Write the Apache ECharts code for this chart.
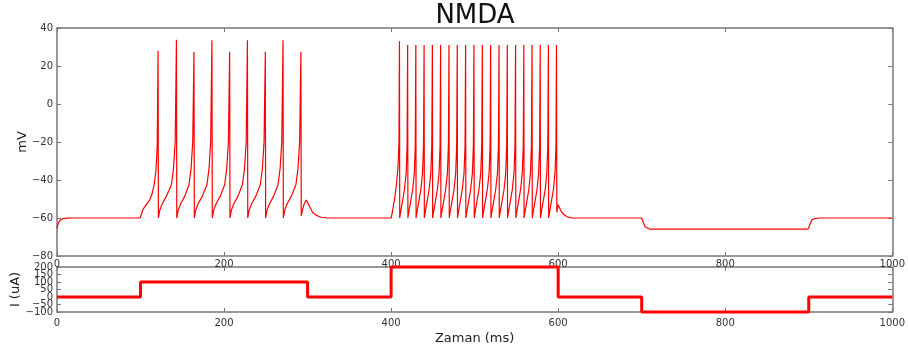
<!DOCTYPE html>
<html>
<head>
<meta charset="utf-8">
<script src="https://cdn.jsdelivr.net/npm/echarts@6/dist/echarts.min.js"></script>
<style>
  html, body { margin: 0; padding: 0; background: #fff; }
  #chart { width: 908px; height: 354px; }
</style>
</head>
<body>
<div id="chart"></div>
<script>
// membrane potential trace (ms, mV)
const voltage = [
  [0, -65.5], [1, -63.5], [3, -61.6], [6, -60.5], [12, -60.1], [20, -60], [99.5, -60],
  [101, -58], [103, -55.5], [107, -52.8], [111, -50.5], [114, -47], [116.5, -42], [118.5, -35], [120, -22], [121, 28],
  [121.4, -60], [123, -56], [126, -52.5], [131, -48.5], [137, -42.5], [139.5, -34], [141.5, -20], [143, 33.8],
  [143.4, -60], [145, -56], [148, -52.5], [153, -48.5], [158, -42.5], [160.5, -34], [162.5, -20], [164, 27.5],
  [164.4, -60], [166, -56], [169, -52.5], [174, -48.5], [179.5, -42.5], [182, -34], [184, -20], [185.5, 33.5],
  [185.9, -60], [187.5, -56], [190.5, -52.5], [195.5, -48.5], [200.7, -42.5], [203.2, -34], [205.2, -20], [206.7, 27.5],
  [207.1, -60], [208.7, -56], [211.7, -52.5], [216.7, -48.5], [222, -42.5], [224.5, -34], [226.5, -20], [228, 33.5],
  [228.4, -60], [230, -56], [233, -52.5], [238, -48.5], [243.4, -42.5], [245.9, -34], [247.9, -20], [249.4, 27.5],
  [249.8, -60], [251.4, -56], [254.4, -52.5], [259.4, -48.5], [264.6, -42.5], [267.1, -34], [269.1, -20], [270.6, 33.5],
  [271, -60], [272.6, -56], [275.6, -52.5], [280.6, -48.5], [286, -42.5], [288.5, -34], [290.5, -20], [292, 27.5],
  [292.4, -59], [294, -55.5], [296, -52.5], [298.5, -50.5], [300.5, -51.5], [303, -54.5], [306, -57], [310, -58.5],
  [316, -59.6], [324, -60], [400, -60],
  [401.5, -57], [403, -53], [404.5, -49], [406.5, -42], [408.3, -33], [409.4, -20], [410, 33],
  [410.3, -60], [411.5, -56.5], [413.5, -51.5], [416, -45], [418, -36.5], [419.1, -22], [419.8, 31],
  [420.1, -60], [421.3, -56.5], [423.3, -51.5], [425.8, -45], [427.8, -36.5], [428.9, -22], [429.6, 31],
  [429.9, -60], [431.1, -56.5], [433.1, -51.5], [435.6, -45], [437.6, -36.5], [438.8, -22], [439.5, 31],
  [439.8, -60], [441, -56.5], [443, -51.5], [445.5, -45], [447.5, -36.5], [448.7, -22], [449.4, 31],
  [449.7, -60], [450.9, -56.5], [452.9, -51.5], [455.4, -45], [457.4, -36.5], [458.6, -22], [459.3, 31],
  [459.6, -60], [460.8, -56.5], [462.8, -51.5], [465.3, -45], [467.4, -36.5], [468.6, -22], [469.3, 31],
  [469.6, -60], [470.8, -56.5], [472.8, -51.5], [475.3, -45], [477.3, -36.5], [478.5, -22], [479.2, 31],
  [479.5, -60], [480.7, -56.5], [482.7, -51.5], [485.2, -45], [487.3, -36.5], [488.5, -22], [489.2, 31],
  [489.5, -60], [490.7, -56.5], [492.7, -51.5], [495.2, -45], [497.3, -36.5], [498.5, -22], [499.2, 31],
  [499.5, -60], [500.7, -56.5], [502.7, -51.5], [505.2, -45], [507.3, -36.5], [508.5, -22], [509.2, 31],
  [509.5, -60], [510.7, -56.5], [512.7, -51.5], [515.2, -45], [517.3, -36.5], [518.5, -22], [519.2, 31],
  [519.5, -60], [520.7, -56.5], [522.7, -51.5], [525.2, -45], [527.3, -36.5], [528.5, -22], [529.2, 31],
  [529.5, -60], [530.7, -56.5], [532.7, -51.5], [535.2, -45], [537.2, -36.5], [538.4, -22], [539.1, 31],
  [539.4, -60], [540.6, -56.5], [542.6, -51.5], [545.1, -45], [547.1, -36.5], [548.3, -22], [549, 31],
  [549.3, -60], [550.5, -56.5], [552.5, -51.5], [555, -45], [557, -36.5], [558.2, -22], [558.9, 31],
  [559.2, -60], [560.4, -56.5], [562.4, -51.5], [564.9, -45], [566.8, -36.5], [568, -22], [568.7, 31],
  [569, -60], [570.2, -56.5], [572.2, -51.5], [574.7, -45], [576.6, -36.5], [577.8, -22], [578.5, 31],
  [578.8, -60], [580, -56.5], [582, -51.5], [584.5, -45], [586.4, -36.5], [587.6, -22], [588.3, 31],
  [588.6, -60], [589.8, -56.5], [591.8, -51.5], [594.3, -45], [596.2, -36.5], [597.4, -22], [598, 31],
  [598.4, -57], [599.8, -53], [601.5, -54.5], [604, -56.8], [607, -58.3], [611, -59.4], [617, -60], [700, -60],
  [701, -60.8], [702.5, -63], [704, -64.6], [706, -65.5], [710, -65.9], [899, -65.9],
  [900.5, -64.5], [902, -62.5], [904, -61], [907, -60.3], [913, -60], [1000, -60]
];

// injected current steps (ms, uA)
const currentTimes = [0, 100, 300, 400, 600, 700, 900, 1000];
const currentValues = [0, 100, 0, 200, 0, -100, 0, 0];

const xTicks = [0, 200, 400, 600, 800, 1000];
const vTicks = [-80, -60, -40, -20, 0, 20, 40];
const iTicks = [-100, -50, 0, 50, 100, 150, 200];

const font = 'DejaVu Sans';
const frame = { show: true, onZero: false, lineStyle: { color: '#777', width: 1.5 } };
const tick = { show: true, inside: true, length: 4, lineStyle: { color: '#777', width: 1 } };
const fmt = v => String(v).replace('-', '\u2212');
const lbl = { fontFamily: font, fontSize: 10, color: '#333', formatter: fmt, showMinLabel: true, showMaxLabel: true, hideOverlap: false };
const nameFont = { fontFamily: font, fontSize: 13, color: '#222' };

function xAx(grid, pos, labels, margin) {
  return {
    type: 'value', gridIndex: grid, position: pos,
    min: xTicks[0], max: xTicks[xTicks.length - 1], interval: 200,
    axisLine: frame, axisTick: tick, splitLine: { show: false },
    axisLabel: Object.assign({ show: labels, margin: margin }, lbl)
  };
}
function yAx(grid, pos, ticks, labels) {
  return {
    type: 'value', gridIndex: grid, position: pos,
    min: ticks[0], max: ticks[ticks.length - 1], interval: ticks[1] - ticks[0],
    axisLine: frame, axisTick: tick, splitLine: { show: false },
    axisLabel: Object.assign({ show: labels, margin: 4 }, lbl)
  };
}
function named(ax, text, gap) {
  return Object.assign(ax, {
    name: text, nameLocation: 'middle', nameGap: gap,
    nameMoveOverlap: false, nameTextStyle: nameFont
  });
}

const chart = echarts.init(document.getElementById('chart'));
const xa = [
  xAx(0, 'bottom', true, 3), xAx(0, 'top', false, 3),
  named(xAx(1, 'bottom', true, 6), 'Zaman (ms)', 20), xAx(1, 'top', false, 3)
];
// current axis labels sit closer than their height, so they are split over two
// stacked left axes (every other tick each) to keep all of them visible
const iLeft = named(yAx(1, 'left', iTicks, true), 'I (uA)', 35);
iLeft.axisLabel.formatter = v => (iTicks.indexOf(v) % 2 === 0 ? fmt(v) : '');
const iLeft2 = yAx(1, 'left', iTicks, true);
iLeft2.axisLine = { show: false };
iLeft2.axisTick = { show: false };
iLeft2.axisLabel.formatter = v => (iTicks.indexOf(v) % 2 === 1 ? fmt(v) : '');
const ya = [
  named(yAx(0, 'left', vTicks, true), 'mV', 28), yAx(0, 'right', vTicks, false),
  iLeft, yAx(1, 'right', iTicks, false), iLeft2
];

chart.setOption({
  animation: false,
  backgroundColor: '#fff',
  title: {
    text: 'NMDA', left: 475, top: 3, padding: 0, textAlign: 'center',
    textStyle: { fontFamily: font, fontSize: 26, fontWeight: 'normal', color: '#111' }
  },
  grid: [
    { left: 57, top: 28, width: 836, height: 228 },
    { left: 57, top: 267, width: 836, height: 45 }
  ],
  xAxis: xa,
  yAxis: ya,
  series: [
    {
      type: 'line', xAxisIndex: 0, yAxisIndex: 0, data: voltage,
      showSymbol: false, lineStyle: { color: '#ff0000', width: 1.2 }
    },
    {
      type: 'line', xAxisIndex: 2, yAxisIndex: 2, step: 'end', clip: false,
      data: currentTimes.map((t, i) => [t, currentValues[i]]),
      showSymbol: false, lineStyle: { color: '#ff0000', width: 3 }
    }
  ]
});
</script>
</body>
</html>
